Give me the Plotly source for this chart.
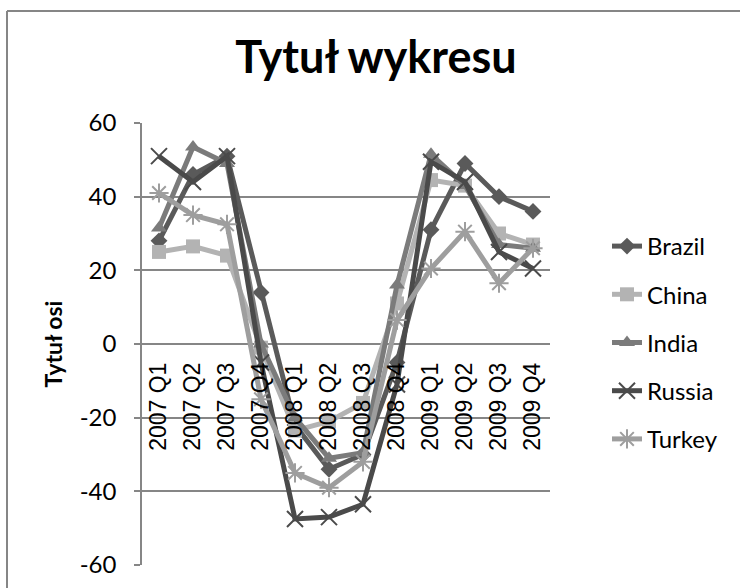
import plotly.graph_objects as go

categories = ["2007 Q1", "2007 Q2", "2007 Q3", "2007 Q4",
              "2008 Q1", "2008 Q2", "2008 Q3", "2008 Q4",
              "2009 Q1", "2009 Q2", "2009 Q3", "2009 Q4"]

brazil = [28, 46, 51, 14, -22, -34, -30, -5, 31, 49, 40, 36]
china = [25, 26.5, 24, -1, -23.5, -21, -16, 11, 44.5, 43, 30, 27]
india = [31.5, 53.5, 49, 0, -20, -31, -29.5, 16, 51.5, 43, 27, 26]
russia = [51, 44, 51, -5, -47.5, -47, -43.5, -11, 49.5, 44, 25, 20.5]
turkey = [41, 35, 32.5, -15, -35, -39, -32, 6.5, 20.5, 30.5, 16.5, 26]

series_names = ["Brazil", "China", "India", "Russia", "Turkey"]
series_values = [brazil, china, india, russia, turkey]
colors = ["#5a5a5a", "#b3b3b3", "#7b7b7b", "#4a4a4a", "#9e9e9e"]
symbols = ["diamond", "square", "triangle-up", "x-thin-open", "asterisk-open"]
msizes = [13, 14, 14, 16, 16]

y_ticks = [-60, -40, -20, 0, 20, 40, 60]
y_tick_labels = ["-60", "-40", "-20", "0", "20", "40", "60"]

fig = go.Figure()
for name, vals, col, sym, ms in zip(series_names, series_values, colors, symbols, msizes):
    open_sym = sym.endswith("-open")
    fig.add_trace(go.Scatter(
        x=categories, y=vals, name=name, mode="lines+markers",
        legendgroup=name,
        line=dict(color=col, width=5),
        marker=dict(symbol=sym, size=ms, color=col,
                    line=dict(color=col, width=2 if open_sym else 0)),
    ))

# page body margin is removed below, so layout is in window pixels
W, H = 740, 588
PL, PR, PT, PB = 142, 550, 123, 565
pw, ph = PR - PL, PB - PT


def px_x(x):
    return (x - PL) / pw


def px_y(y):
    return (PB - y) / ph


GRID = "#868686"
BORDER = dict(color="#868686", width=2)
fig.update_layout(
    width=W, height=H,
    margin=dict(l=PL, r=W - PR, t=PT, b=H - PB, autoexpand=False),
    paper_bgcolor="white", plot_bgcolor="white",
    font=dict(family="Lato, Liberation Sans, sans-serif", color="black"),
    title=dict(text="<b>Tytuł wykresu</b>", x=376 / W, xanchor="center",
               y=1 - 57 / H, yanchor="middle",
               font=dict(family="Lato", size=45, color="black")),
    showlegend=True,
    legend=dict(x=px_x(607), xanchor="left", y=px_y(224), yanchor="top",
                font=dict(size=24, family="Lato", color="black"),
                tracegroupgap=14, bgcolor="rgba(0,0,0,0)"),
    xaxis=dict(type="category", categoryorder="array", categoryarray=categories,
               range=[-0.5, len(categories) - 0.5], automargin=False,
               anchor="free", position=0.5,
               tickangle=-90, showgrid=False, showline=False, zeroline=False,
               ticks="", ticklabelstandoff=13,
               tickfont=dict(family="Liberation Sans", size=23, color="black")),
    yaxis=dict(range=[-60, 60], tickvals=y_ticks, ticktext=y_tick_labels,
               automargin=False,
               showgrid=True, gridcolor=GRID, gridwidth=1.5,
               showline=True, linecolor=GRID, linewidth=1.5,
               ticks="outside", ticklen=6, tickcolor=GRID, tickwidth=1.5,
               zeroline=False, ticklabelstandoff=13,
               tickfont=dict(family="Lato", size=24, color="black"),
               title=dict(text="<b>Tytuł osi</b>", standoff=11,
                          font=dict(family="Lato", size=23, color="black"))),
    shapes=[
        dict(type="line", xref="paper", yref="paper",
             x0=px_x(7), x1=px_x(7), y0=px_y(11), y1=px_y(600),
             line=BORDER, layer="below"),
        dict(type="line", xref="paper", yref="paper",
             x0=px_x(7), x1=px_x(760), y0=px_y(11), y1=px_y(11),
             line=BORDER, layer="below"),
    ],
)

fig.write_html("out.html",
               config={"displayModeBar": False},
               post_script="document.body.style.margin='0px';")
